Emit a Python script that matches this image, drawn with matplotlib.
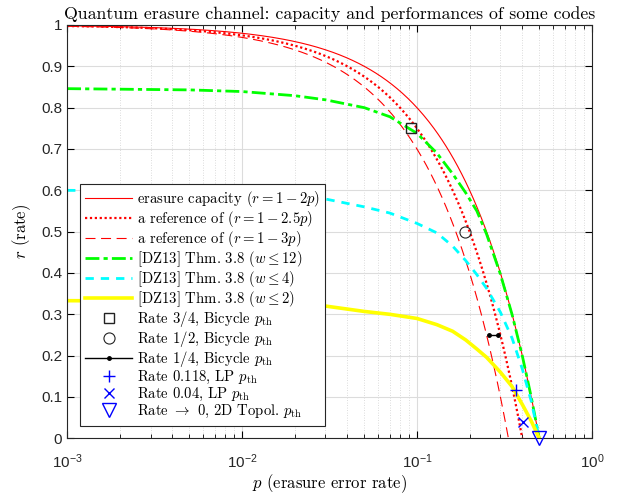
import numpy as np
import matplotlib
matplotlib.use("Agg")
import matplotlib.pyplot as plt
from matplotlib.ticker import LogLocator, NullFormatter

plt.rcParams['mathtext.fontset'] = 'cm'
plt.rcParams['axes.formatter.use_mathtext'] = True

# reference lines r = 1 - k p (slopes from the legend)
ref_slopes = [2, 2.5, 3]
p_grid = np.logspace(-3, 0, 400)

# [DZ13] Thm. 3.8 curves
p_dz = [0.001, 0.005, 0.01, 0.02, 0.03, 0.05, 0.07, 0.1, 0.13, 0.16, 0.19, 0.22,
        0.25, 0.3, 0.35, 0.4, 0.45, 0.5]
r_w12 = [0.846, 0.843, 0.839, 0.829, 0.819, 0.800, 0.778, 0.738, 0.690, 0.640,
         0.594, 0.550, 0.494, 0.397, 0.299, 0.200, 0.100, 0.0]
r_w4 = [0.600, 0.598, 0.596, 0.589, 0.579, 0.560, 0.545, 0.520, 0.497, 0.465,
        0.430, 0.396, 0.363, 0.305, 0.242, 0.168, 0.090, 0.0]
r_w2 = [0.333, 0.332, 0.330, 0.325, 0.320, 0.307, 0.300, 0.290, 0.275, 0.259,
        0.238, 0.216, 0.196, 0.160, 0.125, 0.082, 0.042, 0.0]

# code thresholds
bic34 = (0.092, 0.75)
bic12 = (0.187, 0.5)
bic14_p = [0.259, 0.289]
bic14_r = [0.25, 0.25]
lp118 = (0.366, 0.118)
lp04 = (0.404, 0.04)
topo = (0.5, 0.0)

yticks = [0, 0.1, 0.2, 0.3, 0.4, 0.5, 0.6, 0.7, 0.8, 0.9, 1]
ytick_labels = ['0', '0.1', '0.2', '0.3', '0.4', '0.5', '0.6', '0.7', '0.8', '0.9', '1']

cm = 'cmr10'
tickfont = 'Liberation Sans'

fig = plt.figure(figsize=(6.27, 4.95), dpi=100)
ax = fig.add_axes([0.107, 0.1145, 0.837, 0.835])

ax.plot(p_grid, 1 - ref_slopes[0] * p_grid, color='red', lw=0.8,
        label=r'erasure capacity $(r=1-2p)$')
ax.plot(p_grid, 1 - ref_slopes[1] * p_grid, color='red', lw=1.6, ls=(0, (1, 1.2)),
        label=r'a reference of $(r=1-2.5p)$')
ax.plot(p_grid, 1 - ref_slopes[2] * p_grid, color='red', lw=0.8, ls=(0, (9, 5)),
        label=r'a reference of $(r=1-3p)$')
ax.plot(p_dz, r_w12, color='#00ff00', lw=2.0, ls=(0, (5, 1.5, 1.5, 1.5)),
        label=r'[DZ13] Thm. 3.8 $(w\leq 12)$')
ax.plot(p_dz, r_w4, color='cyan', lw=2.0, ls=(0, (3, 2.5)),
        label=r'[DZ13] Thm. 3.8 $(w\leq 4)$')
ax.plot(p_dz, r_w2, color='yellow', lw=2.6,
        label=r'[DZ13] Thm. 3.8 $(w\leq 2)$')

ax.plot([bic34[0]], [bic34[1]], ls='none', marker='s', ms=7, mfc='none', mec='#222222',
        mew=1.0, label=r'Rate 3/4, Bicycle $p_{\mathrm{th}}$')
ax.plot([bic12[0]], [bic12[1]], ls='none', marker='o', ms=8, mfc='none', mec='#222222',
        mew=0.8, label=r'Rate 1/2, Bicycle $p_{\mathrm{th}}$')
ax.plot(bic14_p, bic14_r, color='black', lw=1.0, marker='.', ms=5,
        label=r'Rate 1/4, Bicycle $p_{\mathrm{th}}$')
ax.plot([lp118[0]], [lp118[1]], ls='none', marker='+', ms=9, mew=1.0, color='blue',
        label=r'Rate 0.118, LP $p_{\mathrm{th}}$')
ax.plot([lp04[0]], [lp04[1]], ls='none', marker='x', ms=7, mew=1.0, color='blue',
        label=r'Rate 0.04, LP $p_{\mathrm{th}}$')
ax.plot([topo[0]], [topo[1]], ls='none', marker='v', ms=10, mfc='none', mec='blue',
        mew=1.0, clip_on=False, zorder=5,
        label=r'Rate $\rightarrow$ 0, 2D Topol. $p_{\mathrm{th}}$')

ax.set_xscale('log')
ax.set_xlim(1e-3, 1)
ax.set_ylim(0, 1)
ax.set_yticks(yticks)
ax.set_yticklabels(ytick_labels)
ax.xaxis.set_minor_locator(LogLocator(base=10, subs=np.arange(2, 10), numticks=20))
ax.xaxis.set_minor_formatter(NullFormatter())

ax.grid(True, which='major', color='#dcdcdc', lw=0.8)
ax.grid(True, which='minor', axis='x', color='#d0d0d0', lw=0.6, ls=(0, (1, 2)))
ax.set_axisbelow(True)

ax.tick_params(which='both', direction='in', top=True, right=True, labelsize=11)
ax.tick_params(which='major', length=5, width=0.8)
ax.tick_params(which='minor', length=3, width=0.6)
ax.tick_params(axis='x', which='major', pad=10)
for lab in ax.get_xticklabels() + ax.get_yticklabels():
    lab.set_fontfamily(tickfont)
    lab.set_color('#262626')
for s in ax.spines.values():
    s.set_color('#262626')
    s.set_linewidth(0.8)

ax.set_title('Quantum erasure channel: capacity and performances of some codes',
             fontfamily=cm, fontsize=12.8, pad=4)
ax.set_xlabel(r'$p$ (erasure error rate)', fontfamily=cm, fontsize=12, labelpad=1)
ax.set_ylabel(r'$r$ (rate)', fontfamily=cm, fontsize=12, labelpad=6)

leg = ax.legend(loc='lower left', bbox_to_anchor=(0.025, 0.031), borderaxespad=0,
                prop={'family': cm, 'size': 10.6}, labelspacing=0.0, handlelength=3.2,
                handletextpad=0.3, borderpad=0.35, fancybox=False, framealpha=1,
                edgecolor='#262626')
leg.get_frame().set_linewidth(0.8)

fig.savefig('out.png', dpi=100)
